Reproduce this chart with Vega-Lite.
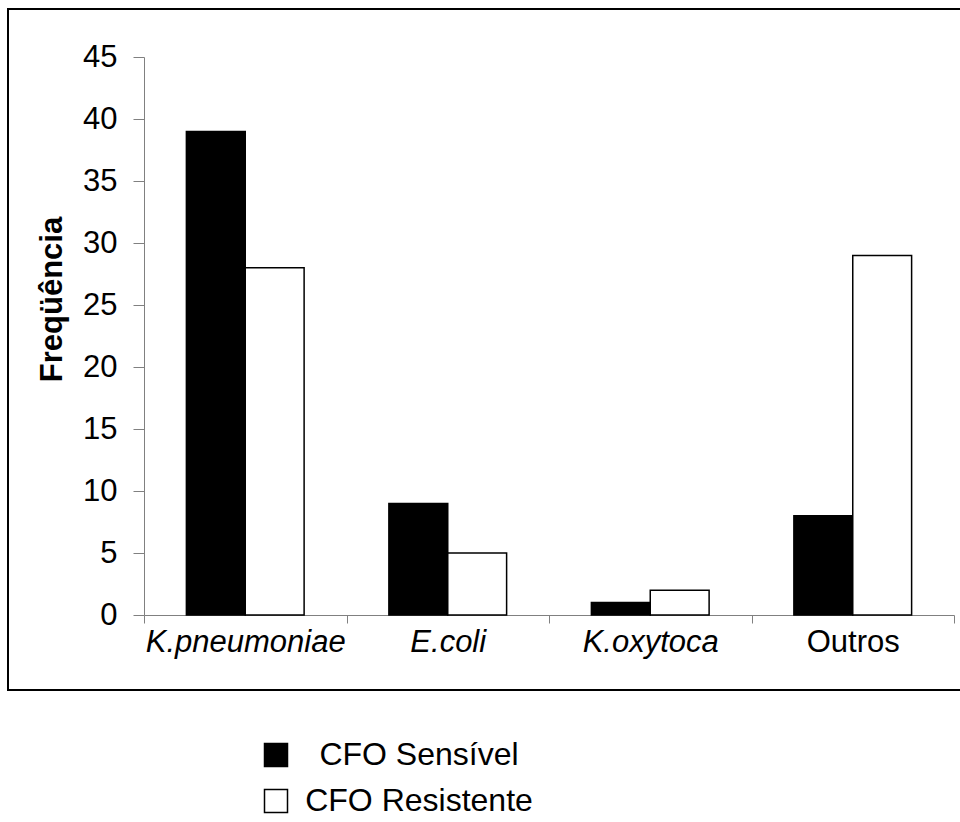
{
  "$schema": "https://vega.github.io/schema/vega-lite/v6.json",
  "autosize": {"type": "none"},
  "padding": {"left": 8, "top": 9, "right": 0, "bottom": 132},
  "width": 953,
  "height": 681,
  "background": "white",
  "config": {
    "view": {"stroke": "black", "strokeWidth": 2, "fill": "white"},
    "font": "Liberation Sans"
  },
  "data": {
    "values": [
      {"organismo": "K.pneumoniae", "grupo": "CFO Sensível", "frequencia": 39},
      {"organismo": "K.pneumoniae", "grupo": "CFO Resistente", "frequencia": 28},
      {"organismo": "E.coli", "grupo": "CFO Sensível", "frequencia": 9},
      {"organismo": "E.coli", "grupo": "CFO Resistente", "frequencia": 5},
      {"organismo": "K.oxytoca", "grupo": "CFO Sensível", "frequencia": 1},
      {"organismo": "K.oxytoca", "grupo": "CFO Resistente", "frequencia": 2},
      {"organismo": "Outros", "grupo": "CFO Sensível", "frequencia": 8},
      {"organismo": "Outros", "grupo": "CFO Resistente", "frequencia": 29}
    ]
  },
  "mark": {"type": "bar", "stroke": "black", "strokeWidth": 1.5},
  "encoding": {
    "x": {
      "field": "organismo",
      "type": "nominal",
      "sort": ["K.pneumoniae", "E.coli", "K.oxytoca", "Outros"],
      "scale": {"range": [136, 946], "paddingInner": 0, "paddingOuter": 0},
      "axis": {
        "title": null,
        "offset": -75,
        "labelAngle": 0,
        "tickBand": "extent",
        "tickSize": 8,
        "tickColor": "#808080",
        "domainColor": "#808080",
        "labelColor": "black",
        "labelFontSize": 31,
        "labelPadding": 4,
        "labelLimit": 400,
        "labelFontStyle": {"condition": {"test": "datum.value !== 'Outros'", "value": "italic"}, "value": "normal"},
        "grid": false
      }
    },
    "xOffset": {
      "field": "grupo",
      "type": "nominal",
      "sort": ["CFO Sensível", "CFO Resistente"],
      "scale": {"paddingInner": 0, "paddingOuter": 0.72}
    },
    "y": {
      "field": "frequencia",
      "type": "quantitative",
      "scale": {"domain": [0, 45], "range": [606, 48], "nice": false},
      "axis": {
        "title": "Freqüência",
        "titleFontSize": 31,
        "titleFontWeight": "bold",
        "titleColor": "black",
        "titleAngle": -90,
        "titleBaseline": "alphabetic",
        "titleAlign": "center",
        "titleX": -83,
        "titleY": 290,
        "offset": -136,
        "values": [0, 5, 10, 15, 20, 25, 30, 35, 40, 45],
        "tickSize": 11,
        "tickColor": "#808080",
        "domainColor": "#808080",
        "labelColor": "black",
        "labelFontSize": 31,
        "labelPadding": 16,
        "grid": false
      }
    },
    "fill": {
      "field": "grupo",
      "type": "nominal",
      "sort": ["CFO Sensível", "CFO Resistente"],
      "scale": {"domain": ["CFO Sensível", "CFO Resistente"], "range": ["black", "white"]},
      "legend": {
        "title": null,
        "orient": "none",
        "legendX": 252,
        "legendY": 730,
        "padding": 0,
        "symbolType": "square",
        "symbolSize": 529,
        "symbolStrokeColor": "black",
        "symbolStrokeWidth": 1.5,
        "symbolOpacity": 1,
        "labelFontSize": 32,
        "labelColor": "black",
        "labelAlign": "center",
        "labelOffset": 127,
        "labelLimit": 400,
        "rowPadding": 14
      }
    }
  }
}
